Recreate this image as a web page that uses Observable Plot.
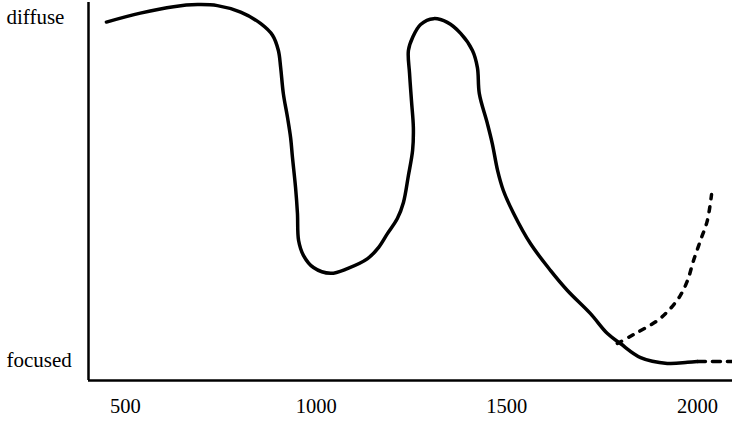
<!DOCTYPE html>
<html>
<head>
<meta charset="utf-8">
<script src="https://cdn.jsdelivr.net/npm/d3@7"></script>
<script src="https://cdn.jsdelivr.net/npm/@observablehq/plot@0.6"></script>
<style>
  html, body { margin: 0; padding: 0; background: #fff; }
</style>
</head>
<body>
<div id="chart"></div>
<script>
// Main (solid) curve: year, level (0 = focused, 100 = diffuse)
const solidYears = [450, 539, 626, 689, 741, 802, 854, 886, 901, 907, 914, 925, 933, 938, 946, 951, 954, 967, 993, 1038, 1082, 1135, 1164, 1187, 1213, 1229, 1242, 1253, 1255, 1250, 1245, 1242, 1253, 1274, 1308, 1344, 1379, 1410, 1423, 1428, 1449, 1462, 1476, 1491, 1518, 1562, 1615, 1659, 1719, 1764, 1798, 1851, 1921, 1974, 2000];
const solidLevels = [98.7, 101.3, 103.2, 103.8, 103.5, 101.6, 98.3, 94.8, 90.4, 85.4, 77.8, 70.8, 65.0, 59.1, 50.4, 42.8, 34.9, 30.5, 27.0, 25.3, 26.7, 29.6, 32.9, 36.9, 41.3, 46.0, 53.9, 61.2, 67.9, 75.8, 83.7, 90.4, 94.2, 98.0, 99.7, 98.6, 95.4, 90.4, 85.4, 77.8, 69.1, 63.2, 55.3, 49.5, 42.8, 34.0, 26.1, 20.3, 13.6, 7.7, 4.8, 0.7, -1.0, -0.7, -0.45];

// Dotted continuation (flat)
const flatYears = [2000, 2089];
const flatLevels = [-0.45, -0.45];

// Dotted alternative (rising)
const riseYears = [1790, 1832, 1895, 1929, 1955, 1974, 1990, 2008, 2026, 2037];
const riseLevels = [4.8, 7.4, 11.5, 15.0, 18.8, 23.2, 29.1, 34.9, 40.7, 48.3];

// Axis ticks and labels
const xTicks = [500, 1000, 1500, 2000];
const yTickValues = [100, 0];
const yTickLabels = ["diffuse", "focused"];

const xDomain = [403, 2092];
const yDomain = [-6, 105];

const toRows = (xs, ys) => xs.map((x, i) => ({x, y: ys[i]}));
const solid = toRows(solidYears, solidLevels);
const flat = toRows(flatYears, flatLevels);
const rise = toRows(riseYears, riseLevels);
const yLabels = yTickValues.map((v, i) => ({y: v, label: yTickLabels[i]}));

const chart = Plot.plot({
  width: 732,
  height: 437,
  marginLeft: 88,
  marginRight: 0,
  marginTop: 0,
  marginBottom: 57,
  style: {
    fontFamily: "'Liberation Serif', 'Times New Roman', serif",
    fontSize: "20px",
    background: "#fff",
    color: "#000",
    overflow: "visible"
  },
  x: {domain: xDomain, axis: null},
  y: {domain: yDomain, axis: null},
  marks: [
    Plot.ruleX([xDomain[0]], {y1: yDomain[0], y2: 104.4, stroke: "#000", strokeWidth: 2.5}),
    Plot.ruleY([yDomain[0]], {stroke: "#000", strokeWidth: 2.5}),
    Plot.axisX({ticks: xTicks, tickSize: 0, tickPadding: 17.5, tickFormat: d => String(d), label: null, fontSize: 20.5}),
    Plot.text(yLabels, {y: "y", text: "label", frameAnchor: "left", textAnchor: "start", dx: -82, fontSize: 21, fill: "#000"}),
    Plot.line(solid, {x: "x", y: "y", curve: "catmull-rom", stroke: "#000", strokeWidth: 3.5}),
    Plot.line(flat, {x: "x", y: "y", stroke: "#000", strokeWidth: 3.5, strokeDasharray: "8,7"}),
    Plot.line(rise, {x: "x", y: "y", curve: "catmull-rom", stroke: "#000", strokeWidth: 3.5, strokeDasharray: "5,8"})
  ]
});
document.getElementById("chart").appendChild(chart);
</script>
</body>
</html>
